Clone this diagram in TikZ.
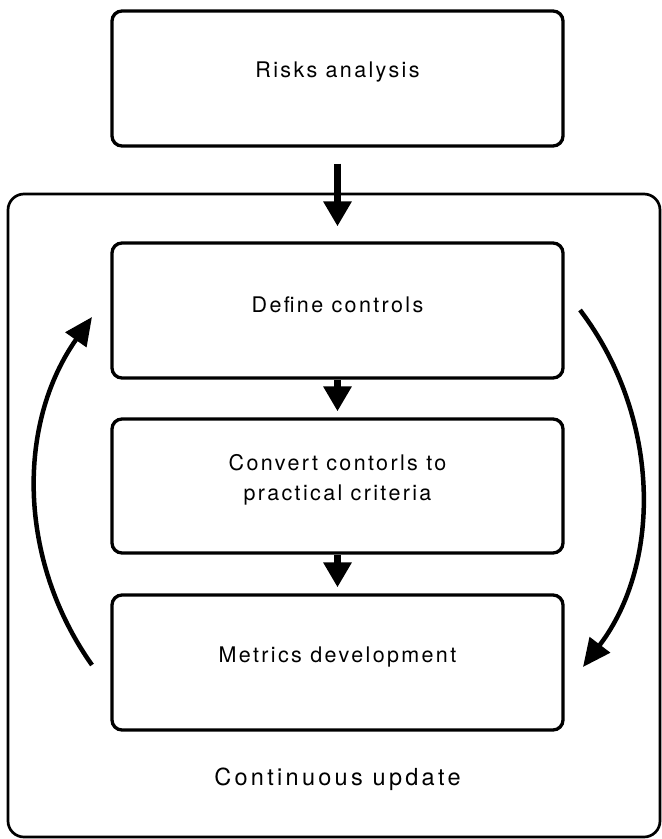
\documentclass[tikz,border=0pt]{standalone}
\usepackage{fontspec}
\setmainfont{TeX Gyre Heros}[LetterSpace=11]
\newfontfamily\bigfont{TeX Gyre Heros}[LetterSpace=14]
\usetikzlibrary{arrows.meta}
\begin{document}
\begin{tikzpicture}[x=1pt,y=-1pt,
  stepbox/.style={draw, line width=3.3pt, rounded corners=10pt,
    minimum width=451pt, minimum height=135pt, inner sep=0pt},
  steptext/.style={label={[yshift=6pt, align=center,
    font=\fontsize{21.5}{29.5}\selectfont]center:#1}},
  outerbox/.style={draw, line width=2.7pt, rounded corners=16pt,
    minimum width=652pt, minimum height=643pt, inner sep=0pt},
  flow/.style={line width=7pt, -{Triangle[length=25pt,width=27pt]}},
  loop/.style={line width=4.5pt, -{Triangle[length=28pt,width=25pt]}}]
\useasboundingbox (0,0) rectangle (662,839);
\node[outerbox] (frame) at (334,515.5) {};
\node[stepbox, steptext={Risks analysis}] (risks) at (337.5,78.5) {};
\node[stepbox, steptext={Define controls}] (define) at (337.5,310.5) {};
\node[stepbox, minimum height=134pt,
  steptext={Convert contorls to\\practical criteria}] (convert) at (337.5,486) {};
\node[stepbox, steptext={Metrics development}] (metrics) at (337.5,662.5) {};
\node[font=\bigfont\fontsize{23.5}{28}\selectfont] (update) at (337.5,779) {Continuous update};
% vertical flow between the steps
\draw[flow, shorten <=16pt, shorten >=15pt] (risks.south) -- (define.north);
\draw[flow, shorten >=6pt] (define.south) -- (convert.north);
\draw[flow, shorten >=6pt] (convert.south) -- (metrics.north);
% feedback loop on both sides
\coordinate (rstart) at (580,310);
\coordinate (rend) at (583,667);
\coordinate (lstart) at (92,665);
\coordinate (lend) at (92,317);
\draw[loop] (rstart) .. controls (660,415) and (663,562) .. (rend);
\draw[loop] (lstart) .. controls (17,559) and (17,423) .. (lend);
\end{tikzpicture}
\end{document}
